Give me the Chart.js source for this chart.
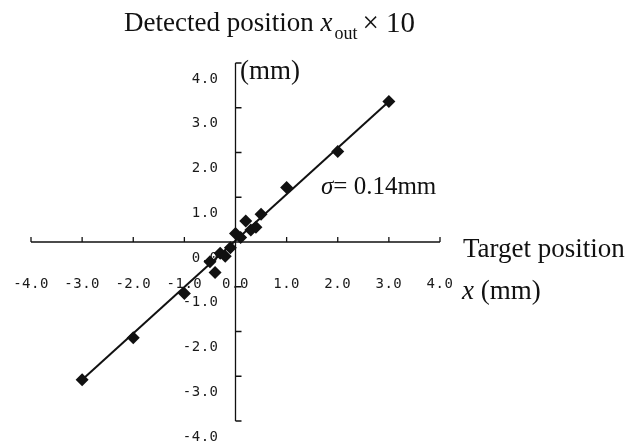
<!DOCTYPE html>
<html>
<head>
<meta charset="utf-8">
<script src="https://cdn.jsdelivr.net/npm/chart.js@4/dist/chart.umd.min.js"></script>
<style>
  html, body { margin: 0; padding: 0; background: #fff; }
  #wrap { width: 631px; height: 446px; }
</style>
</head>
<body>
<div id="wrap"><canvas id="chart" width="631" height="446"></canvas></div>
<script>
// target position x (mm) and detected position x_out*10 (mm)
const targetX = [-3, -2, -1, -0.5, -0.4, -0.3, -0.2, -0.1, 0, 0.1, 0.2, 0.3, 0.4, 0.5, 1, 2, 3];
const detectedY = [-3.08, -2.14, -1.15, -0.44, -0.68, -0.25, -0.32, -0.13, 0.19, 0.1, 0.47, 0.27, 0.33, 0.62, 1.22, 2.02, 3.14];

// fitted line end points
const fitX = [-3, 3];
const fitY = [-3.08, 3.14];

const tickValues = [-4, -3, -2, -1, 0, 1, 2, 3, 4];
const tickLabels = ['-4.0', '-3.0', '-2.0', '-1.0', '0.0', '1.0', '2.0', '3.0', '4.0'];

const ink = '#111';
const serif = '"Liberation Serif"';

// axes through the origin, tick labels and the text around the chart
const crossAxes = {
  id: 'crossAxes',
  beforeDatasetsDraw(chart) {
    const ctx = chart.ctx;
    const xs = chart.scales.x, ys = chart.scales.y;
    const x0 = xs.getPixelForValue(0), y0 = ys.getPixelForValue(0);
    ctx.save();
    ctx.strokeStyle = ink;
    ctx.lineWidth = 1.3;
    ctx.beginPath();
    ctx.moveTo(xs.getPixelForValue(-4), y0);
    ctx.lineTo(xs.getPixelForValue(4), y0);
    ctx.moveTo(x0, ys.getPixelForValue(4));
    ctx.lineTo(x0, ys.getPixelForValue(-4));
    tickValues.forEach(v => {
      const px = xs.getPixelForValue(v);
      ctx.moveTo(px, y0);
      ctx.lineTo(px, y0 - 5);
      const py = ys.getPixelForValue(v);
      ctx.moveTo(x0, py);
      ctx.lineTo(x0 + 6, py);
    });
    ctx.stroke();

    ctx.fillStyle = '#1a1a1a';
    ctx.font = '14px "DejaVu Sans Mono"';
    ctx.letterSpacing = '0.5px';
    ctx.textBaseline = 'middle';
    tickValues.forEach((v, i) => {
      ctx.textAlign = 'center';
      ctx.fillText(tickLabels[i], xs.getPixelForValue(v), 284);
      ctx.textAlign = 'right';
      ctx.fillText(tickLabels[i], x0 - 17, ys.getPixelForValue(v) + 16);
    });
    ctx.restore();
  },
  afterDraw(chart) {
    const ctx = chart.ctx;
    ctx.save();
    ctx.fillStyle = ink;
    ctx.textBaseline = 'alphabetic';
    ctx.textAlign = 'left';

    // title
    let x = 124;
    ctx.font = '27px ' + serif;
    const t1 = 'Detected position ';
    ctx.fillText(t1, x, 31);
    x += ctx.measureText(t1).width;
    ctx.font = 'italic 27px ' + serif;
    ctx.fillText('x', x, 31);
    x += ctx.measureText('x').width + 2;
    ctx.font = '18px ' + serif;
    ctx.fillText('out', x, 39);
    x += ctx.measureText('out').width + 5;
    ctx.font = '29px ' + serif;
    ctx.fillText('× 10', x, 32);

    ctx.font = '27px ' + serif;
    ctx.fillText('(mm)', 240, 79);
    ctx.fillText('Target position', 463, 257);

    ctx.font = 'italic 27px ' + serif;
    ctx.fillText('x', 462, 299);
    const xw = ctx.measureText('x').width;
    ctx.font = '27px ' + serif;
    ctx.fillText(' (mm)', 462 + xw, 299);

    ctx.font = 'italic 25px ' + serif;
    ctx.fillText('σ', 321, 194);
    const sw = ctx.measureText('σ').width;
    ctx.font = '25px ' + serif;
    ctx.fillText('= 0.14mm', 321 + sw, 194);
    ctx.restore();
  }
};

new Chart(document.getElementById('chart'), {
  type: 'scatter',
  data: {
    datasets: [
      {
        label: 'measured',
        data: targetX.map((v, i) => ({ x: v, y: detectedY[i] })),
        pointStyle: 'rectRot',
        pointRadius: 6.5,
        backgroundColor: ink,
        borderColor: ink,
        borderWidth: 0
      },
      {
        type: 'line',
        label: 'fit',
        data: fitX.map((v, i) => ({ x: v, y: fitY[i] })),
        borderColor: ink,
        borderWidth: 2,
        pointRadius: 0,
        fill: false
      }
    ]
  },
  options: {
    responsive: false,
    animation: false,
    layout: { padding: { left: 31, right: 191, top: 63, bottom: 25 } },
    plugins: { legend: { display: false }, tooltip: { enabled: false } },
    scales: {
      x: { type: 'linear', min: -4, max: 4, display: false },
      y: { type: 'linear', min: -4, max: 4, display: false }
    }
  },
  plugins: [crossAxes]
});
</script>
</body>
</html>
